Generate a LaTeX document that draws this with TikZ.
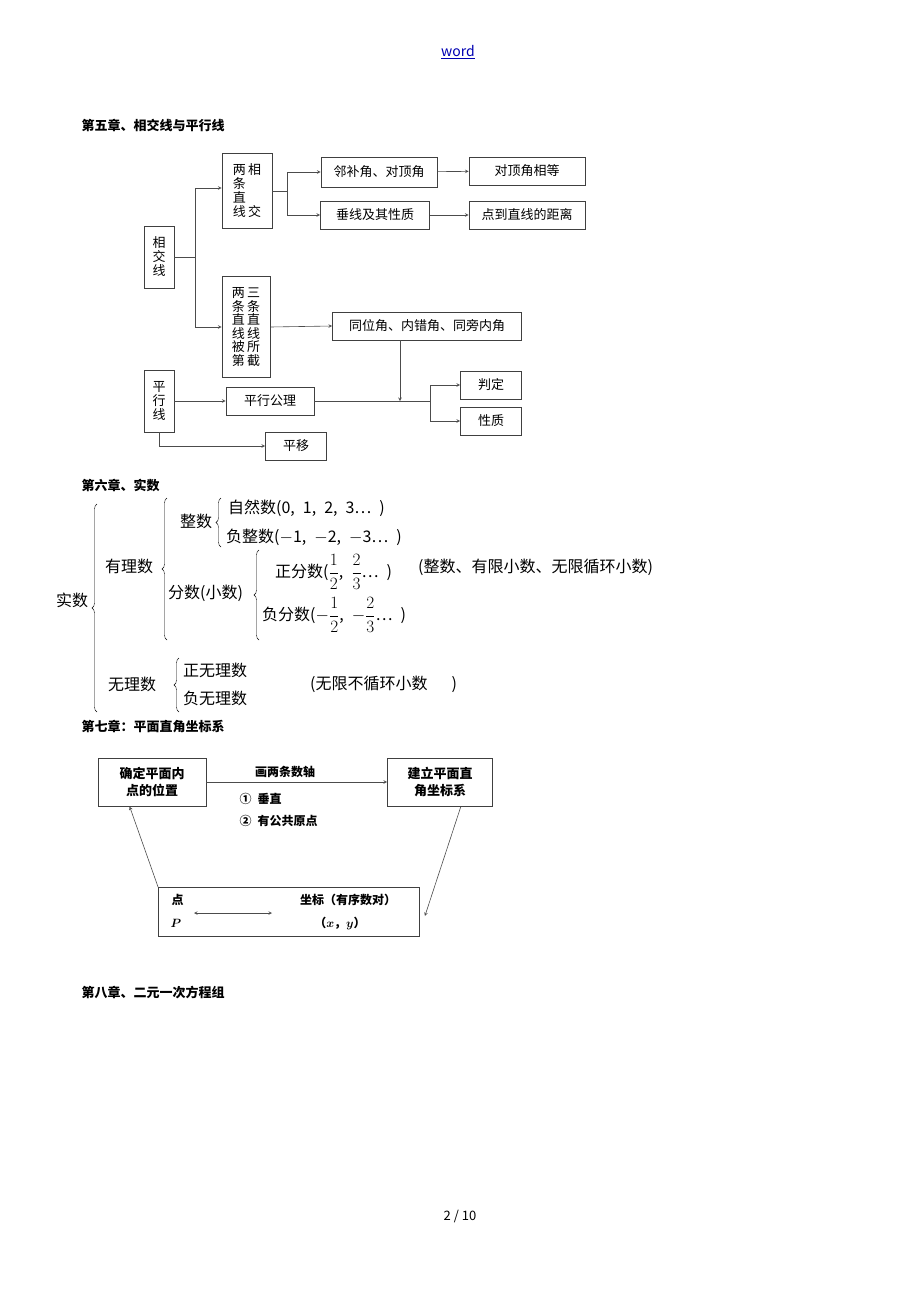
\documentclass[tikz,border=0pt]{standalone}
\usepackage{amsmath,amssymb}
\usepackage{fontspec}
\setmainfont{Noto Sans CJK SC}
\usetikzlibrary{arrows,positioning,calc,decorations.pathreplacing}

\begin{document}
\begin{tikzpicture}[x=1pt,y=-1pt,
    box/.style={rectangle, draw, thick, draw=black!75, inner sep=0pt, font=\fontsize{13}{14}\selectfont, align=center},
    arrow/.style={->, semithick, draw=black!70, >=stealth},
    head/.style={anchor=west, font=\fontsize{13}{15}\selectfont\bfseries},
    txt/.style={anchor=west, inner sep=0pt, font=\fontsize{16}{18}\selectfont},
    br/.style={draw, decorate, decoration={brace, amplitude=5pt}}
]
    \useasboundingbox (0,0) rectangle (920,1302);
    \node[font=\fontsize{14}{16}\selectfont, text=blue!70!black] (word) at (458,52) {\underline{word}};

    % Chapter 5
    \node[head] (h5) at (78,125) {第五章、相交线与平行线};
    \node[box, minimum width=30, minimum height=62] (xjx) at (159,257) {相\\交\\线};
    \node[box, minimum width=50, minimum height=75] (lxj) at (247,191) {两\,相\\条\,\phantom{相}\\直\,\phantom{相}\\线\,交};
    \node[box, minimum width=48, minimum height=101, font=\fontsize{13}{13.5}\selectfont] (bjj) at (246,327) {两\,三\\条\,条\\直\,直\\线\,线\\被\,所\\第\,截};
    \node[box, minimum width=116, minimum height=30] (lbj) at (379,172) {邻补角、对顶角};
    \node[box, minimum width=116, minimum height=28] (dxd) at (527,171) {对顶角相等};
    \node[box, minimum width=109, minimum height=28] (cx) at (375,215) {垂线及其性质};
    \node[box, minimum width=116, minimum height=28] (jl) at (527,215) {点到直线的距离};
    \node[box, minimum width=189, minimum height=28] (tw) at (427,326) {同位角、内错角、同旁内角};
    \node[box, minimum width=30, minimum height=62] (pxx) at (159,401) {平\\行\\线};
    \node[box, minimum width=88, minimum height=28] (gl) at (270,401) {平行公理};
    \node[box, minimum width=61, minimum height=28] (pd) at (491,385) {判定};
    \node[box, minimum width=61, minimum height=28] (xz) at (491,421) {性质};
    \node[box, minimum width=61, minimum height=28] (py) at (296,446) {平移};
    \coordinate (meet) at (400,401);

    \draw[semithick, draw=black!70] (xjx.east) -- (195,257);
    \draw[arrow] (195,257) |- ($(lxj.west)+(0,-3)$);
    \draw[arrow] (195,257) |- (bjj.west);
    \draw[semithick, draw=black!70] (lxj.east) -- (287,191);
    \draw[arrow] (287,191) |- (lbj.west);
    \draw[arrow] (287,191) |- (cx.west);
    \draw[arrow] (lbj) -- (dxd);
    \draw[arrow] (cx) -- (jl);
    \draw[arrow] (bjj.east) -- (tw.west);
    \draw[arrow] (tw.south -| meet) -- (meet);
    \draw[arrow] (pxx.east) -- (gl.west);
    \draw[semithick, draw=black!70] (gl.east) -- (430,401);
    \draw[arrow] (430,401) |- (pd.west);
    \draw[arrow] (430,401) |- (xz.west);
    \draw[arrow] (pxx.south) |- (py.west);

    % Chapter 6
    \node[head] (h6) at (78,485) {第六章、实数};
    \node[txt] (ss) at (56,600) {实数};
    \draw[br] (97,712) -- (97,504);
    \node[txt] (yls) at (105,566) {有理数};
    \draw[br] (167,640) -- (167,498);
    \node[txt] (zs) at (180,521) {整数};
    \draw[br] (221,547) -- (221,498);
    \node[txt] (zrs) at (228,508) {自然数(0,\enspace 1,\enspace 2,\enspace 3…\enspace)};
    \node[txt] (fzs) at (226,537) {负整数($-$1,\enspace $-$2,\enspace $-$3…\enspace)};
    \node[txt] (fs) at (168,593) {分数(小数)};
    \draw[br] (259,640) -- (259,550);
    \node[txt] (zfs) at (275,572) {正分数($\dfrac{1}{2}$,\enspace $\dfrac{2}{3}$…\enspace)};
    \node[txt] (ffs) at (262,615) {负分数($-\dfrac{1}{2}$,\enspace $-\dfrac{2}{3}$…\enspace)};
    \node[txt] (ysm) at (418,567) {(整数、有限小数、无限循环小数)};
    \node[txt] (wls) at (108,684) {无理数};
    \draw[br] (179,712) -- (179,658);
    \node[txt] (zw) at (183,670) {正无理数};
    \node[txt] (fw) at (183,698) {负无理数};
    \node[txt] (wsm) at (310,684) {(无限不循环小数\quad\enspace)};

    % Chapter 7
    \node[head] (h7) at (78,727) {第七章：平面直角坐标系};
    \node[box, minimum width=108, minimum height=48, font=\fontsize{13}{17}\selectfont\bfseries] (qd) at (152,782) {确定平面内\\点的位置};
    \node[box, minimum width=105, minimum height=48, font=\fontsize{13}{17}\selectfont\bfseries] (jl7) at (440,782) {建立平面直\\角坐标系};
    \node[box, minimum width=261, minimum height=49] (zb) at (289,912) {};
    \draw[arrow] (qd) -- (jl7);
    \node[font=\fontsize{12}{14}\selectfont\bfseries] (hl) at (285,772) {画两条数轴};
    \node[anchor=west, font=\fontsize{12}{14}\selectfont\bfseries] (c1) at (236,799) {①\enspace 垂直};
    \node[anchor=west, font=\fontsize{12}{14}\selectfont\bfseries] (c2) at (236,821) {②\enspace 有公共原点};
    \node[anchor=west, font=\fontsize{12}{14}\selectfont\bfseries] (dian) at (168,900) {点};
    \node[anchor=west, font=\fontsize{12}{14}\selectfont\bfseries] (pp) at (167,923) {$\boldsymbol{P}$};
    \node[font=\fontsize{12}{14}\selectfont\bfseries] (zbt) at (348,900) {坐标（有序数对）};
    \node[font=\fontsize{12}{14}\selectfont\bfseries] (xy) at (340,923) {（$\boldsymbol{x}$，$\boldsymbol{y}$）};
    \draw[<->, semithick, >=stealth, draw=black!70] (194,913) -- (272,913);
    \draw[arrow] (zb.north west) -- ($(qd.south west)+(32,0)$);
    \draw[arrow] ($(jl7.south east)+(-32,0)$) -- ($(zb.east)+(5,4)$);

    % Chapter 8
    \node[head] (h8) at (78,993) {第八章、二元一次方程组};
    \node[font=\fontsize{13}{15}\selectfont] (pg) at (460,1216) {2 / 10};
\end{tikzpicture}
\end{document}
